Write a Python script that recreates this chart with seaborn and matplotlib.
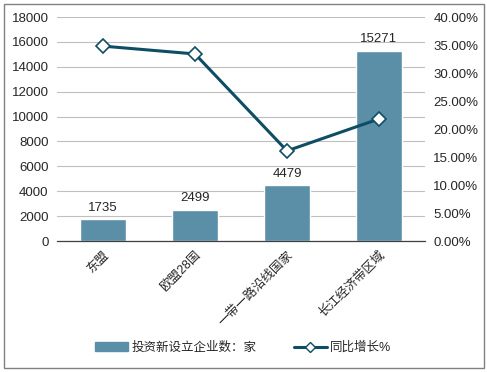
import matplotlib
matplotlib.use("Agg")
import matplotlib.pyplot as plt
import matplotlib.patches as mpatches
from matplotlib.lines import Line2D
from matplotlib.ticker import FuncFormatter
import pandas as pd
import seaborn as sns

# 数据
regions = ['东盟', '欧盟28国', '一带一路沿线国家', '长江经济带区域']
firms = [1735, 2499, 4479, 15271]
growth = [34.8, 33.4, 16.1, 21.8]

bar_color = '#5B8FA8'
line_color = '#0E4D64'

sns.set_theme(style='white')
plt.rcParams['font.family'] = ['Liberation Sans', 'Noto Sans CJK SC']

df = pd.DataFrame({'地区': regions, '企业数': firms, '增长': growth})

fig = plt.figure(figsize=(4.87, 3.72), dpi=100)
ax = fig.add_axes([57 / 487, 1 - 241 / 372, 368 / 487, 224 / 372])

sns.barplot(data=df, x='地区', y='企业数', color=bar_color, width=0.5,
            saturation=1, ax=ax, zorder=2)
ax.set_ylim(0, 18000)
ax.set_yticks(range(0, 18001, 2000))
ax.grid(axis='y', color='#BFBFBF', linewidth=0.8, zorder=0)
ax.set_axisbelow(True)
ax.set_xlabel('')
ax.set_ylabel('')
for s in ['top', 'right', 'left']:
    ax.spines[s].set_visible(False)
ax.spines['bottom'].set_color('#404040')
ax.spines['bottom'].set_linewidth(0.9)
ax.tick_params(axis='both', length=0, labelsize=9.5, colors='#262626', pad=6)
ax.set_xticks(range(len(regions)))
ax.set_xticklabels(regions, rotation=45, ha='right', rotation_mode='anchor',
                   fontsize=9)

for i, v in enumerate(firms):
    ax.text(i, v + 450, str(v), ha='center', va='bottom', fontsize=9.5,
            color='#262626')

ax2 = ax.twinx()
sns.lineplot(x=list(range(len(regions))), y=growth, ax=ax2, color=line_color,
             linewidth=2.2, marker='D', markersize=7, markerfacecolor='white',
             markeredgecolor=line_color, markeredgewidth=1.2, zorder=5)
ax2.set_ylim(0, 40)
ax2.set_yticks(range(0, 41, 5))
ax2.yaxis.set_major_formatter(FuncFormatter(lambda v, p: f'{v:.2f}%'))
ax2.tick_params(axis='y', length=0, labelsize=9.5, colors='#262626', pad=6)
for s in ['top', 'right', 'left', 'bottom']:
    ax2.spines[s].set_visible(False)
ax.set_xlim(-0.5, 3.5)

handles = [mpatches.Patch(color=bar_color, label='投资新设立企业数：家'),
           Line2D([0], [0], color=line_color, linewidth=2.2, marker='D',
                  markersize=5, markerfacecolor='white',
                  markeredgecolor=line_color, label='同比增长%')]
fig.legend(handles=handles, loc='center', bbox_to_anchor=(0.5, 1 - 348 / 372),
           ncol=2, frameon=False, fontsize=9, handlelength=2.6,
           columnspacing=3, handletextpad=0.3)

fig.patches.append(mpatches.Rectangle((4 / 487, 4 / 372), 480 / 487, 364 / 372,
                                      transform=fig.transFigure, fill=False,
                                      edgecolor='#808080', linewidth=1))

fig.savefig('out.png', dpi=100)
